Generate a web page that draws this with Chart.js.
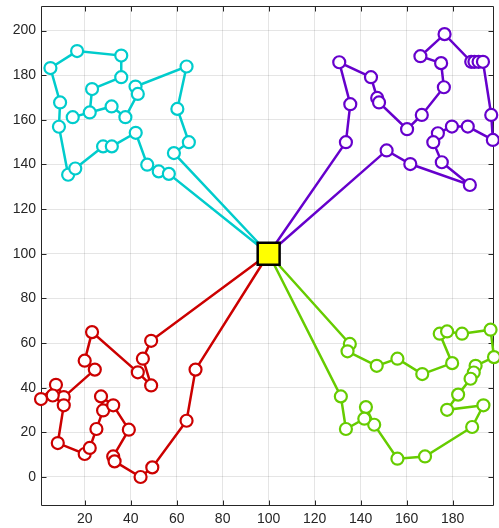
<!DOCTYPE html>
<html><head><meta charset="utf-8">
<script src="https://cdn.jsdelivr.net/npm/chart.js@4.4.0/dist/chart.umd.min.js"></script>
<style>html,body{margin:0;padding:0;background:#fff}#wrap{width:499px;height:528px;position:relative}</style>
</head><body><div id="wrap"><canvas id="c"></canvas></div>
<script>
const depotX = 100, depotY = 100;

const cyanX = [58.8,65.3,60.3,64.3,42.1,43.1,37.7,31.7,14.8,22.2,23.2,35.9,35.9,16.7,5.1,9.3,8.8,12.8,15.9,28.0,31.8,42.2,47.2,52.2,56.6];
const cyanY = [145.1,150.0,164.9,183.9,174.9,171.6,161.2,166.0,161.2,163.3,173.8,179.1,188.8,190.8,183.2,167.8,156.9,135.4,138.2,148.1,148.1,154.2,139.9,136.9,135.8];

const purpleX = [133.6,135.5,130.7,144.5,147.2,148.0,160.2,166.6,176.2,175.0,166.0,176.5,188.1,189.5,191.3,193.2,196.8,197.5,186.6,179.7,173.6,171.6,175.3,187.5,161.6,151.3];
const purpleY = [150.0,167.0,185.8,179.1,169.8,167.8,155.8,162.2,174.6,185.4,188.5,198.4,186.0,186.0,186.0,186.0,162.2,151.0,157.0,157.0,154.0,150.0,141.0,130.8,140.2,146.3];

const redX = [48.9,45.3,48.9,43.1,23.2,20.0,24.4,10.9,7.5,1.0,6.1,10.9,8.3,20.0,22.2,25.1,28.0,27.1,32.4,39.2,32.4,33.0,44.3,49.4,64.3,68.2];
const redY = [61.0,53.0,41.0,46.9,64.9,52.1,48.1,35.8,41.3,34.9,36.5,32.1,15.2,10.3,13.0,21.5,29.8,36.1,32.1,21.2,9.2,7.0,0.0,4.3,25.2,48.1];

const greenX = [135.3,134.3,147.0,156.0,166.8,179.8,174.4,177.6,184.1,196.5,198.0,190.0,189.2,187.8,182.4,177.6,193.4,188.5,168.0,156.0,145.9,142.3,141.6,133.6,131.4];
const greenY = [59.6,56.3,49.8,53.0,46.1,51.0,64.2,65.2,64.2,66.0,53.7,49.8,46.8,44.0,36.9,30.1,32.1,22.4,9.2,8.2,23.4,31.3,26.1,21.5,36.1];

const xTicks = [20,40,60,80,100,120,140,160,180];
const yTicks = [0,20,40,60,80,100,120,140,160,180,200];

function route(xs, ys, color) {
  const pts = [{x: depotX, y: depotY}];
  xs.forEach((x, i) => pts.push({x: x, y: ys[i]}));
  pts.push({x: depotX, y: depotY});
  const n = pts.length;
  return {
    data: pts,
    showLine: true,
    borderColor: color,
    borderWidth: 2.5,
    pointBorderColor: color,
    pointBackgroundColor: '#ffffff',
    pointBorderWidth: 2.2,
    pointRadius: ctx => (ctx.dataIndex === 0 || ctx.dataIndex === n - 1) ? 0 : 6,
    clip: false,
    order: 1
  };
}

const framePlugin = {
  id: 'frame',
  beforeDatasetsDraw(chart) {
    const {ctx, chartArea: a, scales} = chart;
    ctx.save();
    ctx.strokeStyle = '#262626';
    ctx.lineWidth = 1;
    ctx.beginPath();
    const L = Math.round(a.left) + 0.5, R = Math.round(a.right) - 0.5;
    const T = Math.round(a.top) + 0.5, B = Math.round(a.bottom) - 0.5;
    ctx.rect(L, T, R - L, B - T);
    const len = 5;
    xTicks.forEach(v => {
      const px = Math.round(scales.x.getPixelForValue(v)) + 0.5;
      ctx.moveTo(px, B); ctx.lineTo(px, B - len);
      ctx.moveTo(px, T); ctx.lineTo(px, T + len);
    });
    yTicks.forEach(v => {
      const py = Math.round(scales.y.getPixelForValue(v)) + 0.5;
      ctx.moveTo(L, py); ctx.lineTo(L + len, py);
      ctx.moveTo(R, py); ctx.lineTo(R - len, py);
    });
    ctx.stroke();
    ctx.restore();
  }
};

new Chart(document.getElementById('c'), {
  type: 'scatter',
  data: {
    datasets: [
      {
        data: [{x: depotX, y: depotY}],
        pointStyle: 'rect',
        pointRadius: 15.5,
        pointBackgroundColor: '#ffff00',
        pointBorderColor: '#000000',
        pointBorderWidth: 2.5,
        clip: false,
        order: 0
      },
      route(cyanX, cyanY, '#00cccc'),
      route(purpleX, purpleY, '#6600cc'),
      route(redX, redY, '#cc0000'),
      route(greenX, greenY, '#66cc00')
    ]
  },
  options: {
    responsive: true,
    maintainAspectRatio: false,
    animation: false,
    layout: {autoPadding: false, padding: {top: 6, right: 5, left: 0, bottom: 0}},
    plugins: {legend: {display: false}, tooltip: {enabled: false}},
    scales: {
      x: {
        type: 'linear', min: 1, max: 198,
        afterBuildTicks: s => { s.ticks = xTicks.map(v => ({value: v})); },
        afterFit: s => { s.height = 22; s.paddingLeft = 0; s.paddingRight = 0; },
        grid: {color: 'rgba(0,0,0,0.1)', lineWidth: 1, drawTicks: false},
        border: {display: false},
        ticks: {padding: 5, color: '#262626', font: {family: 'Liberation Sans, Arial, sans-serif', size: 14}, maxRotation: 0}
      },
      y: {
        type: 'linear', min: -13, max: 211,
        afterBuildTicks: s => { s.ticks = yTicks.map(v => ({value: v})); },
        afterFit: s => { s.width = 41; s.paddingTop = 0; s.paddingBottom = 0; },
        grid: {color: 'rgba(0,0,0,0.1)', lineWidth: 1, drawTicks: false},
        border: {display: false},
        ticks: {padding: 5, color: '#262626', font: {family: 'Liberation Sans, Arial, sans-serif', size: 14}}
      }
    }
  },
  plugins: [framePlugin]
});
</script>
</body></html>
